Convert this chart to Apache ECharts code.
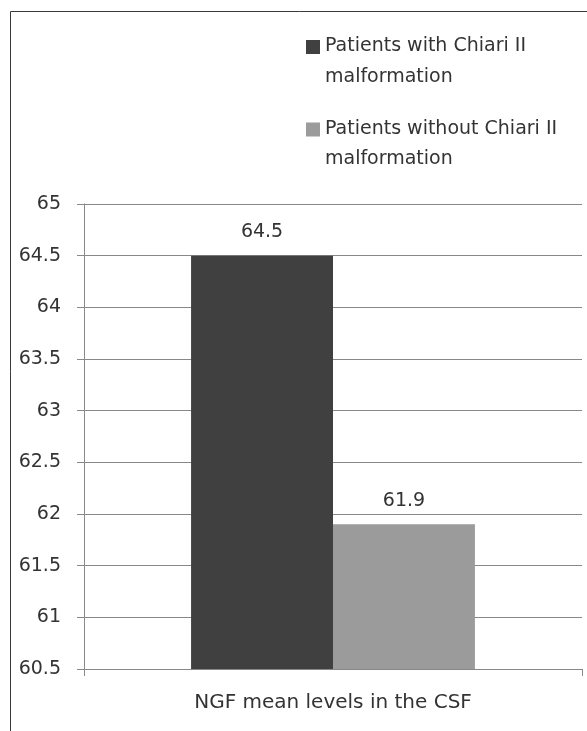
<!DOCTYPE html>
<html>
<head>
<meta charset="utf-8">
<script src="https://cdn.jsdelivr.net/npm/echarts@6/dist/echarts.min.js"></script>
<style>
html, body { margin: 0; padding: 0; background: #fff; }
#main { width: 587px; height: 731px; }
</style>
</head>
<body>
<div id="main"></div>
<script>
// 数据
var categories = ['NGF mean levels in the CSF'];
var seriesNames = ['Patients with Chiari II\nmalformation', 'Patients without Chiari II\nmalformation'];
var withChiari = [64.5];
var withoutChiari = [61.9];
var yMin = 60.5, yMax = 65, yStep = 0.5;

var font = 'DejaVu Sans';
var txt = '#333333';
var gridc = '#888888';

var myChart = echarts.init(document.getElementById('main'));
var option = {
    backgroundColor: '#ffffff',
    animation: false,
    graphic: [{
        type: 'rect',
        shape: { x: 10.5, y: 11.5, width: 700, height: 800 },
        style: { fill: 'none', stroke: '#3a3a3a', lineWidth: 1 },
        silent: true
    }],
    legend: {
        orient: 'vertical',
        left: 306,
        top: 37,
        padding: 0,
        itemGap: 33,
        itemWidth: 14,
        itemHeight: 14,
        icon: 'rect',
        //图例文字：第一行和图标对齐，第二行在下面
        formatter: function (name) {
            var parts = name.split('\n');
            return '{a|' + parts[0] + '}\n{b|' + parts[1] + '}';
        },
        textStyle: {
            fontFamily: font,
            fontSize: 19,
            color: txt,
            rich: {
                a: { fontFamily: font, fontSize: 19, color: txt, lineHeight: 60 },
                b: { fontFamily: font, fontSize: 19, color: txt, lineHeight: 1 }
            }
        },
        data: seriesNames
    },
    grid: {
        left: 84,
        right: 5,
        top: 204,
        bottom: 62,
        containLabel: false
    },
    xAxis: {
        type: 'category',
        data: categories,
        axisLine: { lineStyle: { color: gridc, width: 1 } },
        axisTick: { show: true, length: 7, lineStyle: { color: gridc } },
        axisLabel: {
            margin: 24,
            fontFamily: font,
            fontSize: 20,
            color: txt
        }
    },
    yAxis: {
        type: 'value',
        min: yMin,
        max: yMax,
        interval: yStep,
        axisLine: { show: true, lineStyle: { color: gridc, width: 1 } },
        axisTick: { show: true, length: 7, lineStyle: { color: gridc } },
        splitLine: { show: true, lineStyle: { color: gridc, width: 1 } },
        axisLabel: {
            margin: 23,
            fontFamily: font,
            fontSize: 19,
            color: txt
        }
    },
    series: [{
        name: seriesNames[0],
        type: 'bar',
        data: withChiari,
        barGap: '0%',
        barCategoryGap: '43%',
        itemStyle: { color: '#404040' },
        label: {
            show: true,
            position: 'top',
            distance: 14,
            fontFamily: font,
            fontSize: 19,
            color: txt
        }
    }, {
        name: seriesNames[1],
        type: 'bar',
        data: withoutChiari,
        barGap: '0%',
        barCategoryGap: '43%',
        itemStyle: { color: '#9b9b9b' },
        label: {
            show: true,
            position: 'top',
            distance: 14,
            fontFamily: font,
            fontSize: 19,
            color: txt
        }
    }]
};
myChart.setOption(option);
</script>
</body>
</html>
